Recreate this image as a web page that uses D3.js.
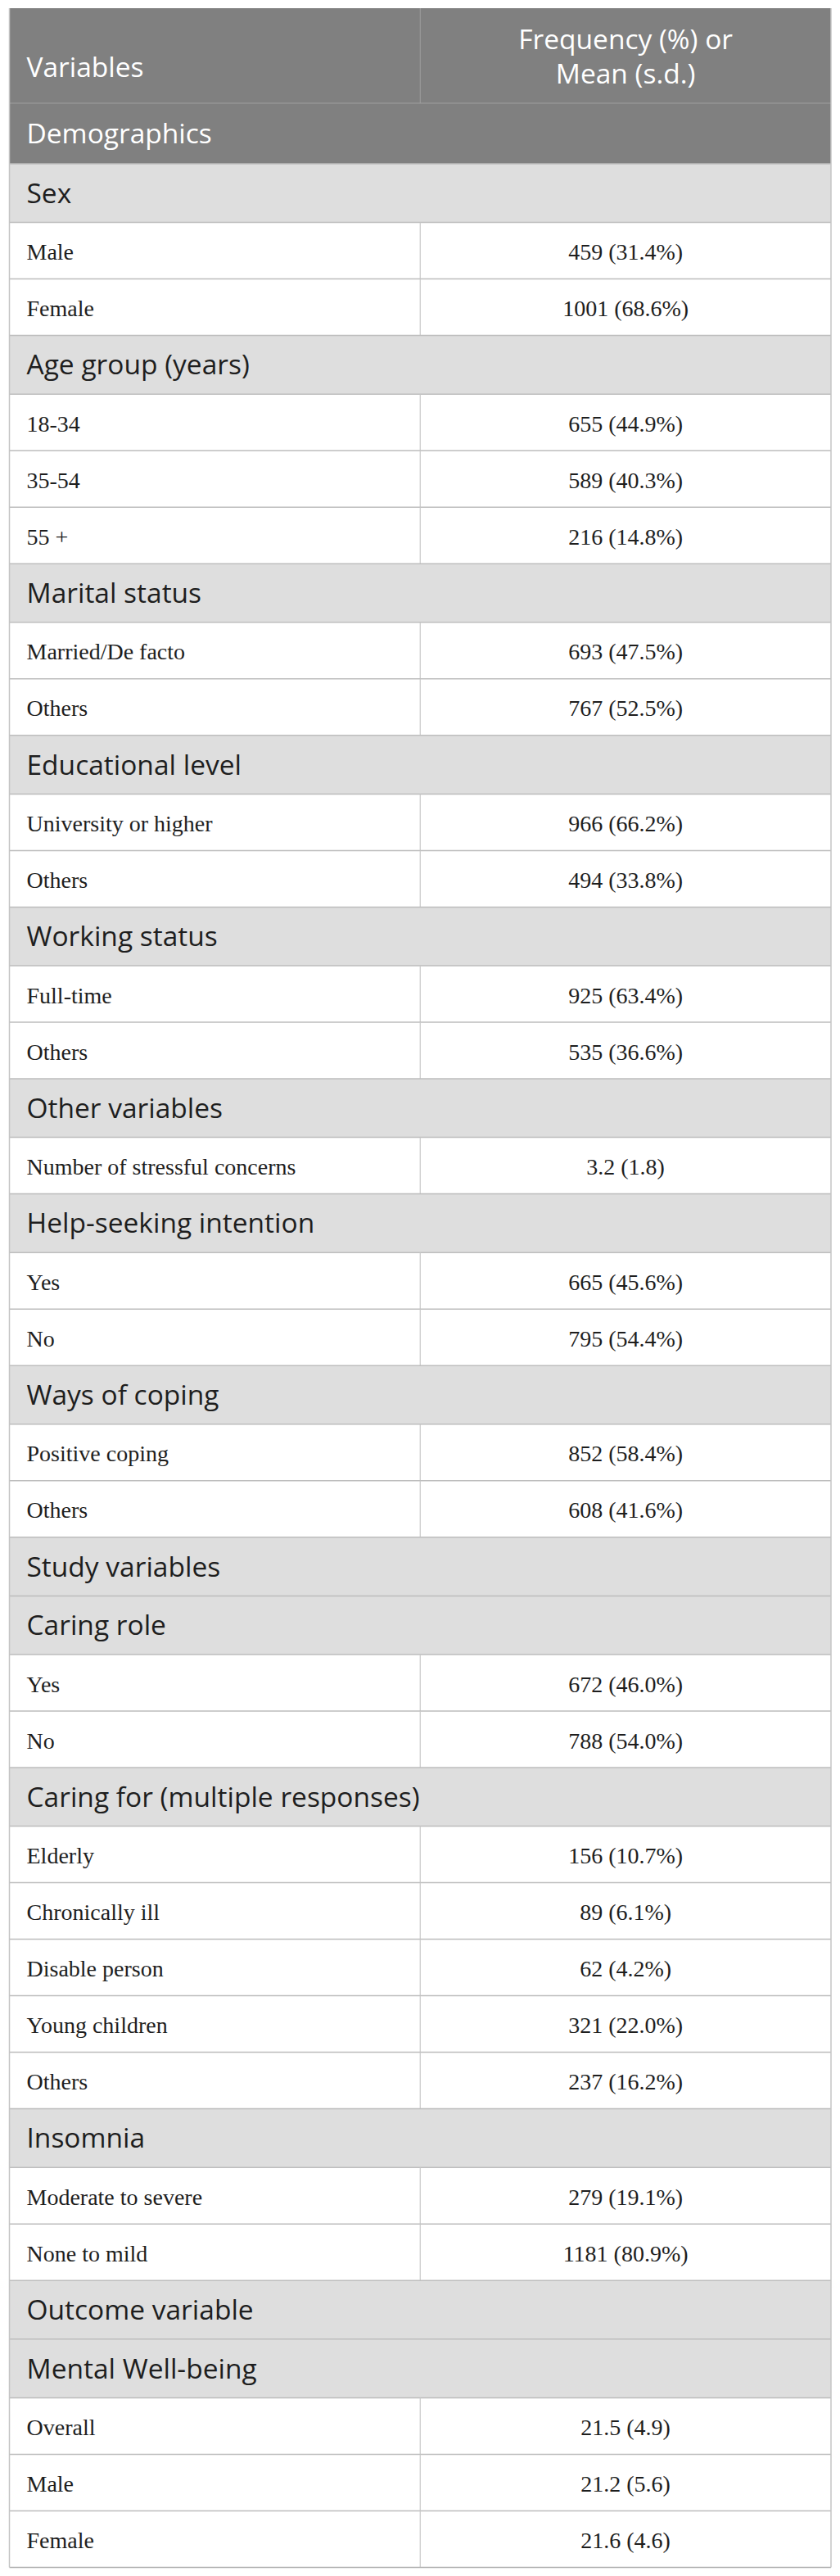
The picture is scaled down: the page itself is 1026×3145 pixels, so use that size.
<!DOCTYPE html>
<html>
<head>
<meta charset="utf-8">
<script src="https://cdn.jsdelivr.net/npm/d3@7"></script>
<style>
  body { margin: 0; background: #fff; }
</style>
</head>
<body>
<div id="chart"></div>
<script>
// table content, one entry per row
var rowLabels = [
  "Demographics",
  "Sex", "Male", "Female",
  "Age group (years)", "18-34", "35-54", "55 +",
  "Marital status", "Married/De facto", "Others",
  "Educational level", "University or higher", "Others",
  "Working status", "Full-time", "Others",
  "Other variables", "Number of stressful concerns",
  "Help-seeking intention", "Yes", "No",
  "Ways of coping", "Positive coping", "Others",
  "Study variables",
  "Caring role", "Yes", "No",
  "Caring for (multiple responses)", "Elderly", "Chronically ill", "Disable person", "Young children", "Others",
  "Insomnia", "Moderate to severe", "None to mild",
  "Outcome variable",
  "Mental Well-being", "Overall", "Male", "Female"
];

var rowValues = [
  "",
  "", "459 (31.4%)", "1001 (68.6%)",
  "", "655 (44.9%)", "589 (40.3%)", "216 (14.8%)",
  "", "693 (47.5%)", "767 (52.5%)",
  "", "966 (66.2%)", "494 (33.8%)",
  "", "925 (63.4%)", "535 (36.6%)",
  "", "3.2 (1.8)",
  "", "665 (45.6%)", "795 (54.4%)",
  "", "852 (58.4%)", "608 (41.6%)",
  "",
  "", "672 (46.0%)", "788 (54.0%)",
  "", "156 (10.7%)", "89 (6.1%)", "62 (4.2%)", "321 (22.0%)", "237 (16.2%)",
  "", "279 (19.1%)", "1181 (80.9%)",
  "",
  "", "21.5 (4.9)", "21.2 (5.6)", "21.6 (4.6)"
];

// section = dark band, group = light band, item = data row
var rowKinds = [
  "section",
  "group", "item", "item",
  "group", "item", "item", "item",
  "group", "item", "item",
  "group", "item", "item",
  "group", "item", "item",
  "group", "item",
  "group", "item", "item",
  "group", "item", "item",
  "group",
  "group", "item", "item",
  "group", "item", "item", "item", "item", "item",
  "group", "item", "item",
  "group",
  "group", "item", "item", "item"
];

var headLabels = ["Variables", ["Frequency (%) or", "Mean (s.d.)"]];

var width = 1026, height = 3145;
var tableTop = 10, headH = 116;

var rowHeight = d3.scaleOrdinal()
  .domain(["section", "group", "item"])
  .range([74, 71.6, 69]);

var fill = d3.scaleOrdinal()
  .domain(["section", "group", "item"])
  .range(["#808080", "#dedede", "#ffffff"]);

var x = d3.scaleBand()
  .domain(["label", "value"])
  .range([11.5, 1015]);

var rows = rowLabels.map(function(d, i) {
  return {label: d, value: rowValues[i], kind: rowKinds[i], h: rowHeight(rowKinds[i])};
});
var cum = d3.cumsum(rows, function(d) { return d.h; });
rows.forEach(function(d, i) { d.y = tableTop + headH + cum[i] - d.h; });

var svg = d3.select("#chart").append("svg")
  .attr("width", width)
  .attr("height", height)
  .style("display", "block");

var sans = "'Open Sans', 'Noto Sans', sans-serif";
var serif = "'Liberation Serif', 'DejaVu Serif', serif";
var sansSize = "33.5px";

// header
var head = svg.append("g");
head.append("rect")
  .attr("x", x("label")).attr("y", tableTop)
  .attr("width", x.range()[1] - x("label")).attr("height", headH)
  .attr("fill", "#808080");
head.append("line")
  .attr("x1", x("value")).attr("x2", x("value"))
  .attr("y1", tableTop).attr("y2", tableTop + headH)
  .attr("stroke", "#9e9e9e").attr("stroke-width", 1);
head.append("text")
  .attr("x", x("label") + 21).attr("y", tableTop + 84)
  .attr("fill", "#fff")
  .style("font-family", sans).style("font-size", sansSize)
  .text(headLabels[0]);
head.append("text")
  .attr("x", x("value") + x.bandwidth() / 2)
  .attr("fill", "#fff")
  .attr("text-anchor", "middle")
  .style("font-family", sans).style("font-size", sansSize)
  .selectAll("tspan").data(headLabels[1]).enter().append("tspan")
    .attr("x", x("value") + x.bandwidth() / 2)
    .attr("y", function(d, i) { return tableTop + 50 + i * 42; })
    .text(function(d) { return d; });

// body rows
var row = svg.selectAll("g.row")
  .data(rows)
  .enter().append("g")
    .attr("class", "row")
    .attr("transform", function(d) { return "translate(0," + d.y + ")"; });

row.append("rect")
  .attr("x", x("label"))
  .attr("width", x.range()[1] - x("label"))
  .attr("height", function(d) { return d.h; })
  .attr("fill", function(d) { return fill(d.kind); });

row.append("line")
  .attr("x1", x("label")).attr("x2", x.range()[1])
  .attr("y1", 0).attr("y2", 0)
  .attr("stroke", function(d, i) { return i == 0 ? "#9e9e9e" : "#bdbdbd"; })
  .attr("stroke-width", function(d, i) { return i == 0 ? 1 : 1.5; });

row.filter(function(d) { return d.kind == "item"; })
  .append("line")
    .attr("x1", x("value")).attr("x2", x("value"))
    .attr("y1", 0).attr("y2", function(d) { return d.h; })
    .attr("stroke", "#c8c8c8").attr("stroke-width", 1.2);

row.append("text")
  .attr("x", x("label") + 21)
  .attr("y", function(d) { return d.h / 2 + (d.kind == "item" ? 11 : 12); })
  .attr("fill", function(d) { return d.kind == "section" ? "#fff" : "#1e1e1e"; })
  .style("font-family", function(d) { return d.kind == "item" ? serif : sans; })
  .style("font-size", function(d) { return d.kind == "item" ? "28px" : sansSize; })
  .text(function(d) { return d.label; });

row.filter(function(d) { return d.value != ""; })
  .append("text")
    .attr("x", x("value") + x.bandwidth() / 2)
    .attr("y", function(d) { return d.h / 2 + 11; })
    .attr("text-anchor", "middle")
    .attr("fill", "#1e1e1e")
    .style("font-family", serif)
    .style("font-size", "28px")
    .text(function(d) { return d.value; });

// outer frame
var bottom = rows[rows.length - 1].y + rows[rows.length - 1].h;
svg.append("line")
  .attr("x1", x("label")).attr("x2", x.range()[1])
  .attr("y1", bottom).attr("y2", bottom)
  .attr("stroke", "#b0b0b0").attr("stroke-width", 1.5);
svg.append("line")
  .attr("x1", x("label")).attr("x2", x("label"))
  .attr("y1", tableTop).attr("y2", bottom)
  .attr("stroke", "#c4c4c4").attr("stroke-width", 1.5);
svg.append("line")
  .attr("x1", x.range()[1]).attr("x2", x.range()[1])
  .attr("y1", tableTop).attr("y2", bottom)
  .attr("stroke", "#c4c4c4").attr("stroke-width", 1.5);
</script>
</body>
</html>
